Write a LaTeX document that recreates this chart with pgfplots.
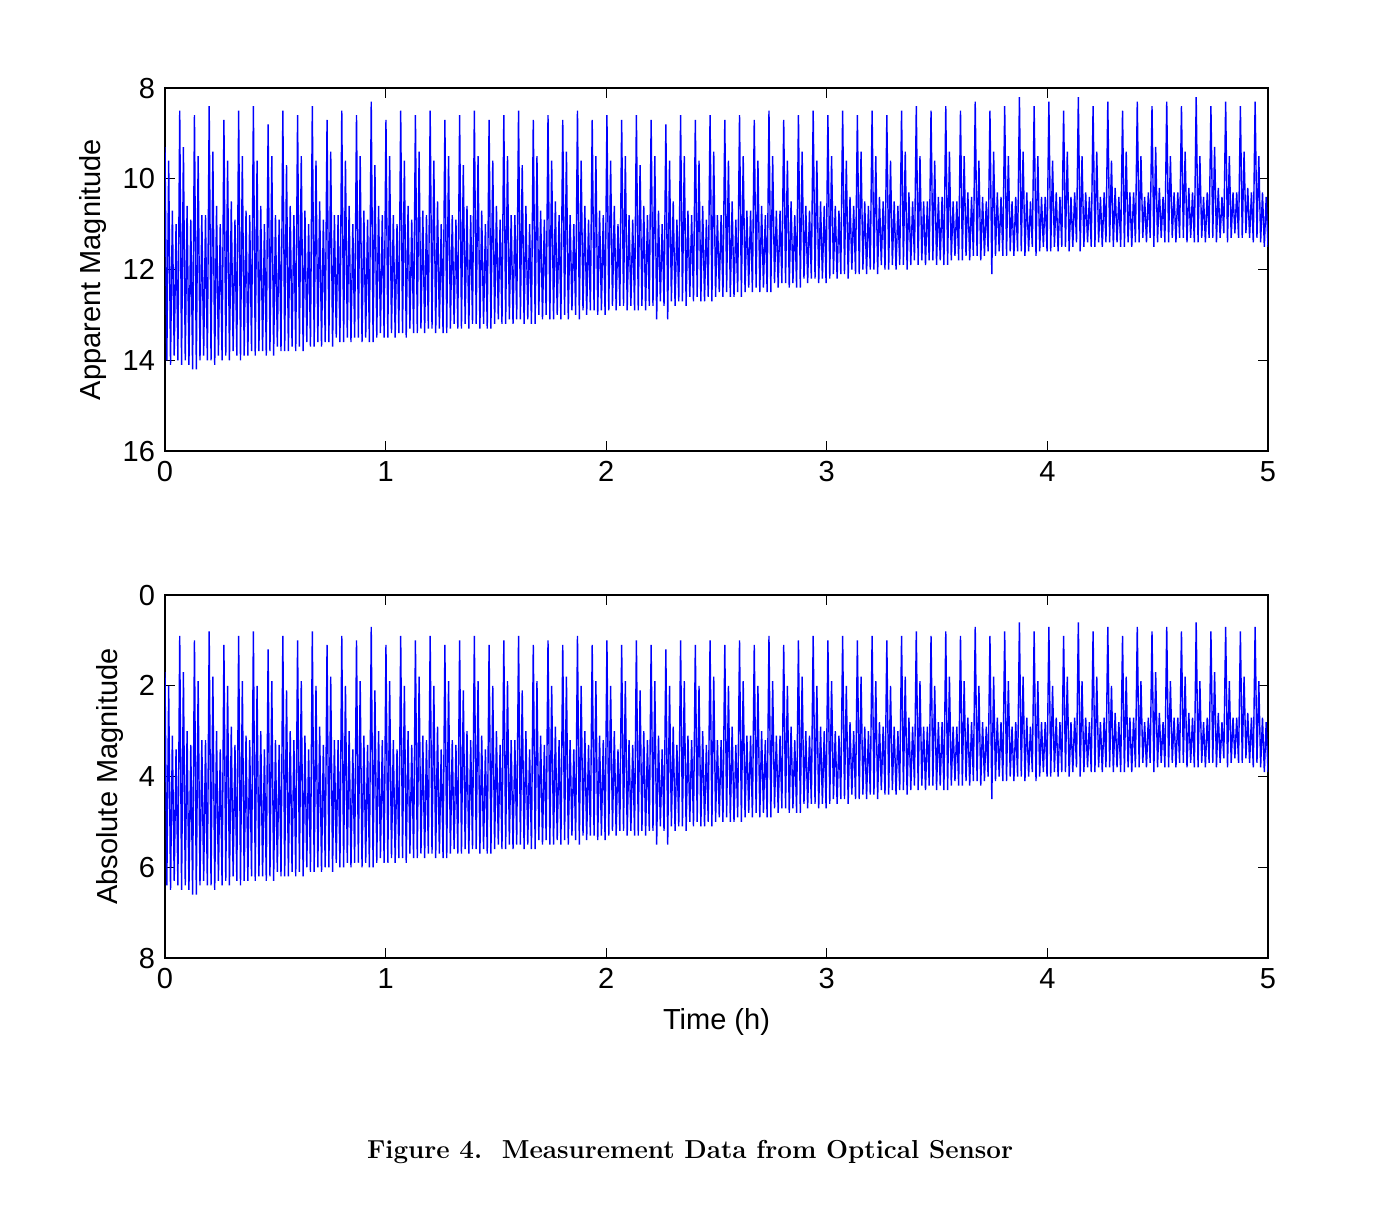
\documentclass[border=0pt]{standalone}
\usepackage{pgfplots}
\pgfplotsset{compat=1.18}
\usepackage{pgfplotstable}
\usepackage{fontspec}
\newfontfamily\arial{Liberation Sans}
\pgfplotstableread[row sep=\\]{
y\\
9.3\\ 14.0\\ 9.6\\ 14.1\\ 10.7\\ 13.9\\ 11.0\\ 14.0\\
8.5\\ 14.1\\ 9.3\\ 14.0\\ 10.6\\ 14.1\\ 10.9\\ 14.2\\
8.6\\ 14.2\\ 9.5\\ 14.0\\ 10.8\\ 13.9\\ 10.8\\ 14.0\\
8.4\\ 14.0\\ 9.4\\ 14.1\\ 10.6\\ 13.9\\ 11.0\\ 14.0\\
8.7\\ 13.9\\ 9.6\\ 14.0\\ 10.5\\ 13.8\\ 10.9\\ 13.9\\
8.5\\ 14.0\\ 9.5\\ 13.9\\ 10.7\\ 13.9\\ 10.8\\ 13.8\\
8.4\\ 13.9\\ 9.6\\ 13.8\\ 10.6\\ 13.8\\ 11.0\\ 13.9\\
8.8\\ 13.8\\ 9.5\\ 13.9\\ 10.8\\ 13.7\\ 10.9\\ 13.8\\
8.5\\ 13.8\\ 9.7\\ 13.8\\ 10.6\\ 13.7\\ 10.8\\ 13.8\\
8.6\\ 13.7\\ 9.5\\ 13.8\\ 10.7\\ 13.6\\ 11.0\\ 13.7\\
8.4\\ 13.7\\ 9.6\\ 13.6\\ 10.5\\ 13.7\\ 10.9\\ 13.6\\
8.7\\ 13.6\\ 9.4\\ 13.7\\ 10.8\\ 13.5\\ 10.8\\ 13.6\\
8.5\\ 13.6\\ 9.6\\ 13.5\\ 10.6\\ 13.6\\ 11.0\\ 13.5\\
8.6\\ 13.5\\ 9.5\\ 13.6\\ 10.7\\ 13.5\\ 10.9\\ 13.6\\
8.3\\ 13.6\\ 9.7\\ 13.5\\ 10.6\\ 13.4\\ 10.8\\ 13.5\\
8.7\\ 13.5\\ 9.5\\ 13.4\\ 10.8\\ 13.5\\ 11.0\\ 13.4\\
8.5\\ 13.4\\ 9.6\\ 13.5\\ 10.6\\ 13.3\\ 10.9\\ 13.4\\
8.6\\ 13.4\\ 9.4\\ 13.3\\ 10.7\\ 13.4\\ 10.8\\ 13.3\\
8.5\\ 13.3\\ 9.6\\ 13.4\\ 10.5\\ 13.3\\ 11.0\\ 13.4\\
8.7\\ 13.4\\ 9.5\\ 13.3\\ 10.8\\ 13.2\\ 10.9\\ 13.3\\
8.6\\ 13.3\\ 9.7\\ 13.2\\ 10.6\\ 13.3\\ 10.8\\ 13.2\\
8.5\\ 13.2\\ 9.5\\ 13.3\\ 10.7\\ 13.2\\ 11.0\\ 13.3\\
8.7\\ 13.3\\ 9.6\\ 13.2\\ 10.6\\ 13.1\\ 10.9\\ 13.2\\
8.6\\ 13.2\\ 9.5\\ 13.1\\ 10.8\\ 13.2\\ 10.8\\ 13.1\\
8.5\\ 13.1\\ 9.7\\ 13.2\\ 10.6\\ 13.1\\ 11.0\\ 13.2\\
8.7\\ 13.2\\ 9.5\\ 13.0\\ 10.7\\ 13.1\\ 10.9\\ 13.0\\
8.6\\ 13.1\\ 9.6\\ 13.1\\ 10.5\\ 13.0\\ 10.8\\ 13.1\\
8.7\\ 13.0\\ 9.4\\ 13.1\\ 10.8\\ 12.9\\ 11.0\\ 13.0\\
8.5\\ 13.1\\ 9.6\\ 12.9\\ 10.6\\ 13.0\\ 10.9\\ 12.9\\
8.7\\ 12.9\\ 9.5\\ 13.0\\ 10.7\\ 12.9\\ 10.8\\ 13.0\\
8.6\\ 12.9\\ 9.6\\ 12.8\\ 10.6\\ 12.9\\ 11.0\\ 12.8\\
8.7\\ 12.8\\ 9.5\\ 12.9\\ 10.8\\ 12.8\\ 10.9\\ 12.9\\
8.6\\ 12.9\\ 9.7\\ 12.8\\ 10.6\\ 12.9\\ 10.8\\ 12.8\\
8.7\\ 12.8\\ 9.5\\ 13.1\\ 10.7\\ 12.7\\ 11.0\\ 12.8\\
8.8\\ 13.1\\ 9.6\\ 12.7\\ 10.5\\ 12.8\\ 10.9\\ 12.7\\
8.6\\ 12.7\\ 9.5\\ 12.8\\ 10.7\\ 12.6\\ 10.8\\ 12.7\\
8.7\\ 12.6\\ 9.6\\ 12.7\\ 10.6\\ 12.7\\ 10.9\\ 12.6\\
8.6\\ 12.7\\ 9.4\\ 12.6\\ 10.8\\ 12.5\\ 10.8\\ 12.6\\
8.7\\ 12.5\\ 9.6\\ 12.6\\ 10.5\\ 12.6\\ 10.9\\ 12.5\\
8.6\\ 12.6\\ 9.5\\ 12.5\\ 10.7\\ 12.4\\ 10.7\\ 12.5\\
8.7\\ 12.4\\ 9.6\\ 12.5\\ 10.6\\ 12.4\\ 10.8\\ 12.5\\
8.5\\ 12.5\\ 9.5\\ 12.3\\ 10.7\\ 12.4\\ 10.7\\ 12.3\\
8.7\\ 12.3\\ 9.6\\ 12.4\\ 10.5\\ 12.3\\ 10.8\\ 12.4\\
8.6\\ 12.4\\ 9.4\\ 12.2\\ 10.6\\ 12.3\\ 10.7\\ 12.2\\
8.5\\ 12.2\\ 9.6\\ 12.3\\ 10.5\\ 12.2\\ 10.6\\ 12.3\\
8.6\\ 12.2\\ 9.5\\ 12.1\\ 10.6\\ 12.2\\ 10.7\\ 12.1\\
8.5\\ 12.1\\ 9.6\\ 12.2\\ 10.4\\ 12.0\\ 10.6\\ 12.1\\
8.6\\ 12.1\\ 9.4\\ 12.0\\ 10.5\\ 12.1\\ 10.6\\ 12.0\\
8.5\\ 12.0\\ 9.5\\ 12.1\\ 10.4\\ 11.9\\ 10.5\\ 12.0\\
8.6\\ 12.0\\ 9.6\\ 11.9\\ 10.5\\ 12.0\\ 10.6\\ 11.9\\
8.5\\ 11.9\\ 9.4\\ 12.0\\ 10.3\\ 11.9\\ 10.5\\ 11.8\\
8.4\\ 11.9\\ 9.5\\ 11.8\\ 10.5\\ 11.9\\ 10.5\\ 11.8\\
8.5\\ 11.8\\ 9.6\\ 11.9\\ 10.4\\ 11.8\\ 10.4\\ 11.9\\
8.4\\ 11.9\\ 9.4\\ 11.8\\ 10.5\\ 11.7\\ 10.5\\ 11.8\\
8.5\\ 11.8\\ 9.5\\ 11.7\\ 10.3\\ 11.8\\ 10.4\\ 11.7\\
8.3\\ 11.7\\ 9.6\\ 11.8\\ 10.4\\ 11.7\\ 10.5\\ 11.6\\
8.5\\ 12.1\\ 9.4\\ 11.7\\ 10.3\\ 11.6\\ 10.4\\ 11.7\\
8.4\\ 11.7\\ 9.5\\ 11.6\\ 10.5\\ 11.7\\ 10.4\\ 11.6\\
8.2\\ 11.6\\ 9.4\\ 11.7\\ 10.3\\ 11.6\\ 10.5\\ 11.5\\
8.4\\ 11.7\\ 9.5\\ 11.6\\ 10.4\\ 11.5\\ 10.4\\ 11.6\\
8.3\\ 11.6\\ 9.6\\ 11.5\\ 10.3\\ 11.6\\ 10.4\\ 11.5\\
8.5\\ 11.5\\ 9.4\\ 11.6\\ 10.4\\ 11.5\\ 10.3\\ 11.4\\
8.2\\ 11.6\\ 9.5\\ 11.5\\ 10.3\\ 11.4\\ 10.4\\ 11.5\\
8.4\\ 11.5\\ 9.4\\ 11.4\\ 10.4\\ 11.5\\ 10.3\\ 11.4\\
8.3\\ 11.4\\ 9.6\\ 11.5\\ 10.2\\ 11.4\\ 10.4\\ 11.5\\
8.5\\ 11.5\\ 9.4\\ 11.4\\ 10.3\\ 11.5\\ 10.3\\ 11.4\\
8.3\\ 11.4\\ 9.5\\ 11.3\\ 10.4\\ 11.4\\ 10.3\\ 11.3\\
8.4\\ 11.5\\ 9.3\\ 11.4\\ 10.2\\ 11.3\\ 10.4\\ 11.4\\
8.3\\ 11.4\\ 9.5\\ 11.3\\ 10.3\\ 11.4\\ 10.3\\ 11.3\\
8.4\\ 11.3\\ 9.4\\ 11.4\\ 10.2\\ 11.3\\ 10.3\\ 11.4\\
8.2\\ 11.4\\ 9.5\\ 11.3\\ 10.4\\ 11.4\\ 10.3\\ 11.3\\
8.4\\ 11.3\\ 9.3\\ 11.4\\ 10.2\\ 11.3\\ 10.4\\ 11.2\\
8.3\\ 11.4\\ 9.5\\ 11.3\\ 10.3\\ 11.2\\ 10.3\\ 11.3\\
8.4\\ 11.3\\ 9.4\\ 11.2\\ 10.2\\ 11.3\\ 10.3\\ 11.4\\
8.3\\ 11.3\\ 9.5\\ 11.4\\ 10.3\\ 11.5\\ 10.4\\ 11.5\\
}\datatable
\begin{document}
\arial\fontsize{14.5}{17}\selectfont
\begin{tikzpicture}
\path (0pt,0pt) rectangle (689.5pt,-603pt);
\pgfplotsset{every axis/.style={scale only axis, width=551.5pt, height=181.5pt,
  xmin=0, xmax=5, xtick={0,1,2,3,4,5}, y dir=reverse,
  tick align=inside, major tick length=5pt, tick style={black, line width=0.6pt},
  axis line style={line width=0.8pt}, /pgf/number format/assume math mode=true,
  ticklabel style={font=\arial\fontsize{14.5}{17}\selectfont},
  label style={font=\arial\fontsize{14.5}{17}\selectfont},
  anchor=south west}}
\begin{axis}[at={(82.5pt,-225.5pt)}, ymin=8, ymax=16, ytick={8,10,12,14,16},
  ylabel={Apparent Magnitude}, ylabel style={yshift=-2pt}]
\addplot[blue, line width=0.7pt] table[x index=0, y index=0, x expr=\coordindex/119.8] {\datatable};
\end{axis}
\begin{axis}[at={(82.5pt,-479pt)}, ymin=0, ymax=8, ytick={0,2,4,6,8},
  ylabel={Absolute Magnitude}, xlabel={Time (h)}, ylabel style={yshift=-2pt}]
\addplot[blue, line width=0.7pt] table[x index=0, y index=0, x expr=\coordindex/119.8, y expr=\thisrowno{0}-7.6] {\datatable};
\end{axis}
\node[font=\rmfamily\bfseries\fontsize{13}{15}\selectfont] at (345pt,-576pt) {Figure 4.\ \ Measurement Data from Optical Sensor};
\end{tikzpicture}
\end{document}
